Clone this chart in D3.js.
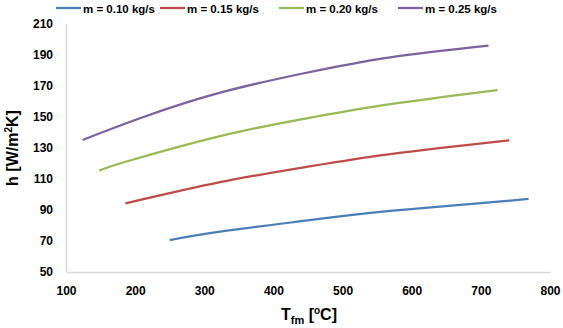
<!DOCTYPE html>
<html>
<head>
<meta charset="utf-8">
<script src="https://cdn.jsdelivr.net/npm/d3@7"></script>
<style>
  html, body { margin: 0; padding: 0; background: #fff; }
  svg { display: block; font-family: "Liberation Sans", Arial, sans-serif; }
</style>
</head>
<body>
<svg id="chart" width="563" height="328"></svg>
<script>
// ---- data ----
const seriesNames = ["m = 0.10 kg/s", "m = 0.15 kg/s", "m = 0.20 kg/s", "m = 0.25 kg/s"];
const seriesColors = ["#4a7ebb", "#be4b48", "#98b954", "#7d60a0"];
const tempM010 = [250, 323, 446, 569, 769];
const hM010    = [70.6, 76.0, 83.1, 89.4, 97.1];
const tempM015 = [186, 323, 446, 569, 741];
const hM015    = [94.3, 108.0, 117.7, 126.1, 135.0];
const tempM020 = [148, 190, 323, 446, 569, 724];
const hM020    = [115.4, 121.6, 137.7, 149.0, 158.3, 167.4];
const tempM025 = [124, 212, 323, 446, 569, 711];
const hM025    = [135.2, 150.0, 165.7, 178.4, 188.5, 196.0];
const xTicks = [100, 200, 300, 400, 500, 600, 700, 800];
const yTicks = [50, 70, 90, 110, 130, 150, 170, 190, 210];

(function () {
const seriesData = [
  d3.zip(tempM010, hM010),
  d3.zip(tempM015, hM015),
  d3.zip(tempM020, hM020),
  d3.zip(tempM025, hM025)
];

const svg = d3.select("#chart");
const mLeft = 66, mRight = 550, mTop = 24, mBottom = 272;

const x = d3.scaleLinear().domain([100, 800]).range([mLeft, mRight]);
const y = d3.scaleLinear().domain([50, 210]).range([mBottom, mTop]);

// axes
const xAxis = d3.axisBottom(x).tickValues(xTicks).tickSize(0).tickPadding(14).tickFormat(d3.format("d"));
const yAxis = d3.axisLeft(y).tickValues(yTicks).tickSize(0).tickPadding(13).tickFormat(d3.format("d"));

const gx = svg.append("g").attr("transform", `translate(0,${mBottom})`).call(xAxis);
const gy = svg.append("g").attr("transform", `translate(${mLeft},0)`).call(yAxis);
[gx, gy].forEach(g => {
  g.select(".domain").attr("stroke", "#d9d9d9").attr("stroke-width", 1.5);
  g.selectAll("text").attr("font-size", 12).attr("font-weight", "bold")
    .attr("fill", "#000").attr("font-family", "'Liberation Sans', Arial, sans-serif");
});
gy.select(".domain").attr("d", `M0.5,${mTop}V${mBottom}`);

// lines
const line = d3.line().x(d => x(d[0])).y(d => y(d[1])).curve(d3.curveNatural);
svg.append("g").selectAll("path").data(seriesData).join("path")
  .attr("d", line)
  .attr("fill", "none")
  .attr("stroke", (d, i) => seriesColors[i])
  .attr("stroke-width", 2.25);

// axis titles
const yt = svg.append("text")
  .attr("transform", `translate(18,148) rotate(-90)`)
  .attr("text-anchor", "middle")
  .attr("font-size", 16).attr("font-weight", "bold");
yt.append("tspan").text("h [W/m");
yt.append("tspan").attr("font-size", 10).attr("dy", -6).text("2");
yt.append("tspan").attr("dy", 6).text("K]");

const xt = svg.append("text")
  .attr("x", 309).attr("y", 320)
  .attr("text-anchor", "middle")
  .attr("font-size", 16).attr("font-weight", "bold");
xt.append("tspan").text("T");
xt.append("tspan").attr("font-size", 11).attr("dy", 4).text("fm");
xt.append("tspan").attr("dy", -4).text(" [");
xt.append("tspan").attr("font-size", 10).attr("dy", -6).text("o");
xt.append("tspan").attr("dy", 6).text("C]");

// legend
const legendX = [56, 160, 279, 398];
const lg = svg.append("g");
seriesNames.forEach((name, i) => {
  const g = lg.append("g").attr("transform", `translate(${legendX[i]},8)`);
  g.append("line").attr("x1", 0).attr("x2", 25).attr("y1", 0).attr("y2", 0)
    .attr("stroke", seriesColors[i]).attr("stroke-width", 2.25);
  g.append("text").attr("x", 27).attr("y", 4.5)
    .attr("font-size", 11.5).attr("font-weight", "bold").text(name);
});
})();
</script>
</body>
</html>
